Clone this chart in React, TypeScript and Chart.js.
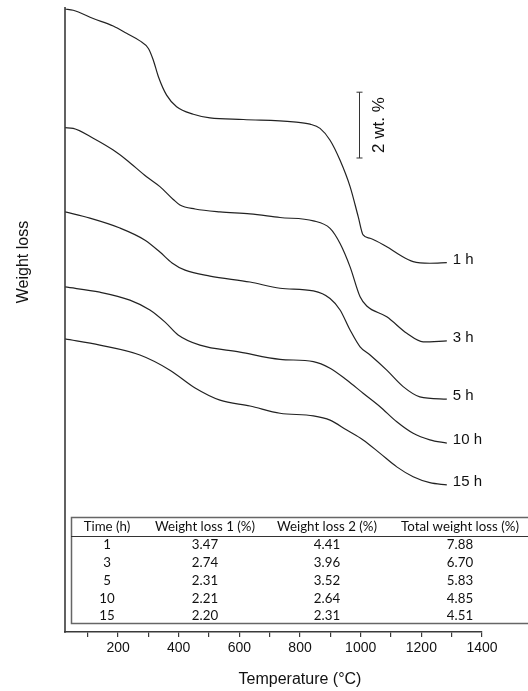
import React, { useEffect, useRef } from "react";
import { Chart, registerables } from "chart.js";

Chart.register(...registerables);

// Curve data: temperature (°C) and stacked signal (wt.% units, offset per curve)
const TEMPS_1H = [25, 52, 118, 184, 228, 272, 300, 316, 333, 360, 393, 448, 503, 613, 778, 833, 866, 899, 932, 965, 992, 1008, 1031, 1086, 1129, 1173, 1228, 1284];
const VALUES_1H = [18.94, 18.9, 18.65, 18.42, 18.2, 17.97, 17.74, 17.39, 16.88, 16.32, 15.97, 15.74, 15.63, 15.58, 15.51, 15.44, 15.31, 14.95, 14.34, 13.54, 12.62, 12.07, 11.97, 11.71, 11.46, 11.26, 11.21, 11.23];

const TEMPS_3H = [25, 52, 118, 184, 228, 294, 338, 382, 404, 454, 536, 635, 734, 844, 899, 932, 965, 998, 1020, 1086, 1152, 1206, 1284];
const VALUES_3H = [15.33, 15.31, 15.01, 14.65, 14.35, 13.84, 13.54, 13.15, 12.98, 12.86, 12.77, 12.71, 12.6, 12.5, 12.27, 11.81, 11.1, 10.19, 9.91, 9.58, 9.08, 8.82, 8.85];

const TEMPS_5H = [25, 107, 206, 289, 338, 378, 421, 503, 635, 734, 844, 899, 932, 965, 998, 1031, 1086, 1140, 1195, 1284];
const VALUES_5H = [12.77, 12.58, 12.28, 11.91, 11.55, 11.22, 11.0, 10.82, 10.64, 10.45, 10.37, 10.14, 9.79, 9.18, 8.67, 8.42, 7.96, 7.46, 7.15, 7.08];

const TEMPS_10H = [25, 140, 239, 305, 355, 398, 470, 602, 734, 844, 899, 954, 1008, 1064, 1119, 1173, 1228, 1284];
const VALUES_10H = [10.49, 10.33, 10.09, 9.79, 9.42, 9.03, 8.72, 8.51, 8.29, 8.22, 8.02, 7.66, 7.26, 6.85, 6.39, 6.04, 5.84, 5.74];

const TEMPS_15H = [25, 140, 272, 371, 454, 536, 635, 734, 844, 899, 954, 1008, 1064, 1119, 1173, 1228, 1284];
const VALUES_15H = [8.91, 8.72, 8.42, 7.96, 7.42, 7.05, 6.87, 6.65, 6.57, 6.44, 6.14, 5.84, 5.43, 5.02, 4.72, 4.54, 4.47];

const CURVE_LABELS = ["1 h", "3 h", "5 h", "10 h", "15 h"];

const X_TICKS = [100, 200, 300, 400, 500, 600, 700, 800, 900, 1000, 1100, 1200, 1300, 1400];
const X_LABELED = [200, 400, 600, 800, 1000, 1200, 1400];

// Scale bar: 2 wt.% at 995 °C
const SCALE_BAR_T = 995;
const SCALE_BAR_BOTTOM = 14.41;
const SCALE_BAR_TOP = 16.41;
const SCALE_BAR_TEXT = "2 wt. %";

// Table
const TABLE_HEADERS = ["Time (h)", "Weight loss 1 (%)", "Weight loss 2 (%)", "Total weight loss (%)"];
const TABLE_TIME = [1, 3, 5, 10, 15];
const TABLE_LOSS1 = [3.47, 2.74, 2.31, 2.21, 2.2];
const TABLE_LOSS2 = [4.41, 3.96, 3.52, 2.64, 2.31];
const TABLE_TOTAL = [7.88, 6.7, 5.83, 4.85, 4.51];

const SERIES = [
  { t: TEMPS_1H, v: VALUES_1H },
  { t: TEMPS_3H, v: VALUES_3H },
  { t: TEMPS_5H, v: VALUES_5H },
  { t: TEMPS_10H, v: VALUES_10H },
  { t: TEMPS_15H, v: VALUES_15H },
];

const SANS = '"Liberation Sans", Arial, sans-serif';
const TABLE_FONT = 'Lato, "Open Sans", sans-serif';

const overlayPlugin = {
  id: "overlay",
  afterDraw(chart: any) {
    const ctx = chart.ctx as CanvasRenderingContext2D;
    const area = chart.chartArea;
    const xs = chart.scales.x;
    const ys = chart.scales.y;
    ctx.save();

    // y axis line
    ctx.strokeStyle = "#3a3a3a";
    ctx.lineWidth = 1.6;
    ctx.beginPath();
    ctx.moveTo(area.left, area.top);
    ctx.lineTo(area.left, area.bottom + 0.8);
    ctx.stroke();

    // axis titles
    ctx.fillStyle = "#111";
    ctx.font = `16px ${SANS}`;
    ctx.textAlign = "center";
    ctx.textBaseline = "middle";
    ctx.fillText("Temperature (°C)", 300, 680);
    ctx.save();
    ctx.translate(24, 262);
    ctx.rotate(-Math.PI / 2);
    ctx.fillText("Weight loss", 0, 0);
    ctx.restore();

    // curve labels
    ctx.font = `15px ${SANS}`;
    ctx.textAlign = "left";
    SERIES.forEach((s, i) => {
      const n = s.t.length - 1;
      const px = xs.getPixelForValue(s.t[n]);
      const py = ys.getPixelForValue(s.v[n]);
      ctx.fillText(CURVE_LABELS[i], px + 6, py - 3);
    });

    // scale bar
    const bx = Math.round(xs.getPixelForValue(SCALE_BAR_T)) + 0.5;
    const by1 = ys.getPixelForValue(SCALE_BAR_TOP);
    const by2 = ys.getPixelForValue(SCALE_BAR_BOTTOM);
    ctx.strokeStyle = "#333";
    ctx.lineWidth = 1;
    ctx.beginPath();
    ctx.moveTo(bx, by1);
    ctx.lineTo(bx, by2);
    ctx.moveTo(bx - 3, by1);
    ctx.lineTo(bx + 3, by1);
    ctx.moveTo(bx - 3, by2);
    ctx.lineTo(bx + 3, by2);
    ctx.stroke();
    ctx.save();
    ctx.translate(bx + 20, (by1 + by2) / 2);
    ctx.rotate(-Math.PI / 2);
    ctx.font = `17px ${SANS}`;
    ctx.textAlign = "center";
    ctx.textBaseline = "middle";
    ctx.fillText(SCALE_BAR_TEXT, 0, 0);
    ctx.restore();

    // table
    const tLeft = 71;
    const tRight = 540;
    const tTop = 517;
    const tBottom = 623;
    const headerLine = 536;
    ctx.strokeStyle = "#666";
    ctx.lineWidth = 1.5;
    ctx.strokeRect(tLeft + 0.5, tTop + 0.5, tRight - tLeft, tBottom - tTop);
    ctx.strokeStyle = "#333";
    ctx.lineWidth = 1;
    ctx.beginPath();
    ctx.moveTo(tLeft, headerLine + 0.5);
    ctx.lineTo(tRight, headerLine + 0.5);
    ctx.stroke();

    const colX = [107, 205, 327, 460];
    ctx.font = `13.3px ${TABLE_FONT}`;
    ctx.fillStyle = "#111";
    ctx.textAlign = "center";
    ctx.textBaseline = "middle";
    TABLE_HEADERS.forEach((h, i) => ctx.fillText(h, colX[i], 527));
    const rowY = [545, 563, 581, 598.5, 616];
    TABLE_TIME.forEach((t, r) => {
      ctx.fillText(String(t), colX[0], rowY[r]);
      ctx.fillText(TABLE_LOSS1[r].toFixed(2), colX[1], rowY[r]);
      ctx.fillText(TABLE_LOSS2[r].toFixed(2), colX[2], rowY[r]);
      ctx.fillText(TABLE_TOTAL[r].toFixed(2), colX[3], rowY[r]);
    });

    ctx.restore();
  },
};

export default function App() {
  const ref = useRef<HTMLCanvasElement>(null);

  useEffect(() => {
    if (!ref.current) return;
    const chart = new Chart(ref.current, {
      type: "line",
      data: {
        datasets: SERIES.map((s, i) => ({
          label: CURVE_LABELS[i],
          data: s.t.map((t, j) => ({ x: t, y: s.v[j] })),
          borderColor: "#222",
          borderWidth: 1.2,
          pointRadius: 0,
          cubicInterpolationMode: "monotone" as const,
          fill: false,
        })),
      },
      options: {
        animation: false,
        responsive: false,
        maintainAspectRatio: false,
        layout: { padding: { left: 65, right: 46, top: 7, bottom: 0 } },
        plugins: {
          legend: { display: false },
          tooltip: { enabled: false },
          title: { display: false },
        },
        scales: {
          x: {
            type: "linear",
            min: 25,
            max: 1400,
            afterBuildTicks: (axis: any) => {
              axis.ticks = X_TICKS.map((v) => ({ value: v }));
            },
            afterFit: (axis: any) => {
              axis.height = 59;
            },
            border: { display: true, color: "#3a3a3a", width: 1.6 },
            grid: {
              display: true,
              drawOnChartArea: false,
              drawTicks: true,
              tickLength: 5,
              color: "#3a3a3a",
              lineWidth: 1.2,
            },
            ticks: {
              autoSkip: false,
              maxRotation: 0,
              padding: 3,
              color: "#111",
              font: { family: SANS, size: 14 },
              callback: (v: any) => (X_LABELED.includes(Number(v)) ? String(v) : ""),
            },
          },
          y: {
            type: "linear",
            display: false,
            min: 0,
            max: 19,
          },
        },
      },
      plugins: [overlayPlugin],
    });
    return () => chart.destroy();
  }, []);

  return (
    <div style={{ position: "fixed", left: 0, top: 0, width: 528, height: 691, background: "#fff" }}>
      <canvas ref={ref} width={528} height={691} style={{ display: "block", width: 528, height: 691 }} />
    </div>
  );
}
